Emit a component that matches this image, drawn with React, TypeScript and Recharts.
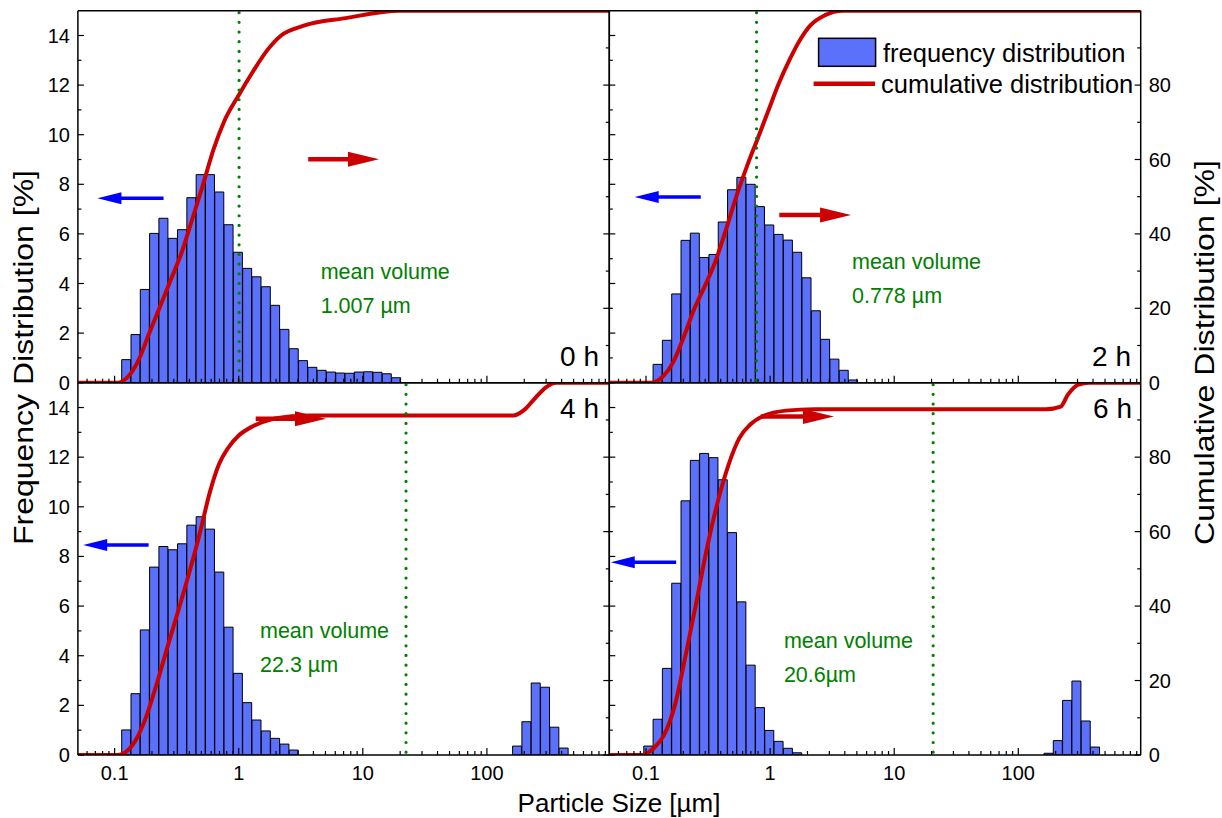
import React from 'react';
import { ComposedChart, Bar, Line, XAxis, YAxis, ReferenceLine } from 'recharts';

const W = 1222;
const H = 818;
const FONT = '"Liberation Sans", Arial, Helvetica, sans-serif';

// size classes (bin centres, µm) shared by all four measurements
const binSize = [
  0.1046, 0.1243, 0.1477, 0.1756, 0.2087, 0.248, 0.2948, 0.3503, 0.4164, 0.4949,
  0.5882, 0.6991, 0.8309, 0.9874, 1.1735, 1.3947, 1.6576, 1.9701, 2.3415, 2.7829,
  3.3075, 3.931, 4.672, 5.5527, 6.5993, 7.8433, 9.3217, 11.079, 13.167, 15.649,
  18.599, 175.6, 208.7, 248.0, 294.8, 350.4, 416.4,
];

// frequency distribution [%] per size class
const freq0h = [
  0, 0.93, 1.94, 3.76, 6.02, 6.63, 5.82, 6.17, 7.46, 8.39,
  8.39, 7.69, 6.37, 5.26, 4.61, 4.27, 3.87, 3.12, 2.15, 1.37,
  0.89, 0.62, 0.5, 0.43, 0.39, 0.38, 0.43, 0.44, 0.42, 0.36,
  0.2, 0, 0, 0, 0, 0, 0,
];
const freq2h = [
  0, 0.74, 1.71, 3.58, 5.74, 6.03, 5.05, 5.17, 6.48, 7.78,
  8.28, 8.0, 7.1, 6.36, 5.98, 5.75, 5.26, 4.23, 2.9, 1.75,
  0.95, 0.5, 0.11, 0, 0, 0, 0, 0, 0, 0,
  0, 0, 0, 0, 0, 0, 0,
];
const freq4h = [
  0, 1.01, 2.47, 5.04, 7.57, 8.4, 8.27, 8.51, 9.26, 9.6,
  9.1, 7.37, 5.15, 3.29, 2.11, 1.41, 0.97, 0.67, 0.44, 0.2,
  0, 0, 0, 0, 0, 0, 0, 0, 0, 0,
  0, 0.36, 1.34, 2.9, 2.73, 1.12, 0.28,
];
const freq6h = [
  0.36, 1.44, 3.49, 6.92, 10.24, 11.87, 12.15, 11.98, 11.09, 8.96,
  6.17, 3.62, 1.91, 0.99, 0.55, 0.27, 0.09, 0, 0, 0,
  0, 0, 0, 0, 0, 0, 0, 0, 0, 0,
  0, 0.07, 0.58, 2.2, 2.98, 1.37, 0.32,
];

// cumulative distribution [%]
const cum0hSize = [0.05, 0.105, 0.128, 0.156, 0.19, 0.232, 0.283, 0.345, 0.42, 0.51, 0.625, 0.76, 1.0, 1.3, 1.7, 2.21, 3.3, 7.28, 19.7, 1000];
const cum0hPct = [0, 0, 1.6, 6.1, 13.3, 20.4, 27.6, 34.8, 43.7, 52.7, 62.6, 70.1, 77.3, 83.6, 89.4, 93.4, 95.9, 98, 100, 100];
const cum2hSize = [0.05, 0.111, 0.136, 0.166, 0.202, 0.246, 0.301, 0.366, 0.448, 0.546, 0.666, 0.785, 0.96, 1.17, 1.43, 1.74, 2.12, 2.77, 3.86, 1000];
const cum2hPct = [0, 0, 1.6, 5.6, 12.4, 20, 26.3, 33, 41.9, 51, 59.1, 65.2, 72.8, 80.3, 86.7, 92.1, 96.1, 98.8, 100, 100];
const cum4hSize = [0.05, 0.105, 0.128, 0.151, 0.178, 0.217, 0.265, 0.324, 0.395, 0.482, 0.588, 0.692, 0.818, 1.0, 1.3, 1.81, 2.69, 3.76, 164, 200, 244, 297, 362, 1000];
const cum4hPct = [0, 0, 1.3, 4.5, 9.9, 18.8, 28.7, 38.5, 48.4, 59.1, 70.8, 78, 82.4, 85.8, 88.3, 90.1, 91, 91.2, 91.2, 92.7, 95.8, 98.7, 100, 100];
const cum6hSize = [0.05, 0.094, 0.115, 0.14, 0.171, 0.209, 0.255, 0.31, 0.379, 0.463, 0.565, 0.689, 0.898, 1.34, 2.27, 168, 220, 251, 306, 373, 1000];
const cum6hPct = [0, 0, 1.8, 5.4, 13.4, 26.9, 41.2, 55.6, 68.1, 78, 85.1, 88.7, 91.2, 92.5, 92.9, 92.9, 93.6, 96.8, 99.5, 100, 100];

// mean volume diameters [µm]
const meanVolume = [1.007, 0.778, 22.3, 20.6];
const meanLabel = ['1.007 µm', '0.778 µm', '22.3 µm', '20.6µm'];
const panelLabel = ['0 h', '2 h', '4 h', '6 h'];

// axis ticks
const xTicks = [
  0.06, 0.07, 0.08, 0.09, 0.1, 0.2, 0.3, 0.4, 0.5, 0.6, 0.7, 0.8, 0.9,
  1, 2, 3, 4, 5, 6, 7, 8, 9, 10, 20, 30, 40, 50, 60, 70, 80, 90,
  100, 200, 300, 400, 500, 600, 700, 800, 900,
];
const xLabels = [0.1, 1, 10, 100];
const freqTicks = [0, 1, 2, 3, 4, 5, 6, 7, 8, 9, 10, 11, 12, 13, 14];
const freqLabels = [0, 2, 4, 6, 8, 10, 12, 14];
const cumTicks = [0, 10, 20, 30, 40, 50, 60, 70, 80, 90];
const cumLabels = [0, 20, 40, 60, 80];

const X_DOMAIN: [number, number] = [0.0506, 969];
const PLOT = { x0: 77.9, x1: 609.3, x2: 1140.7, y0: 10.7, y1: 382.7, y2: 755 };

const BLUE = '#5b70fb';
const RED = '#cc0000';
const GREEN = '#008000';

// arrow annotations: [tail x, tip x, level]
const panels = [
  { col: 0, row: 0, freq: freq0h, cs: cum0hSize, cp: cum0hPct, blue: [0.248, 0.0727, 7.44], red: [3.63, 13.5, 60.1] },
  { col: 1, row: 0, freq: freq2h, cs: cum2hSize, cp: cum2hPct, blue: [0.276, 0.081, 7.49], red: [1.186, 4.49, 45.1] },
  { col: 0, row: 1, freq: freq4h, cs: cum4hSize, cp: cum4hPct, blue: [0.188, 0.0558, 8.46], red: [1.37, 5.05, 90.3] },
  { col: 1, row: 1, freq: freq6h, cs: cum6hSize, cp: cum6hPct, blue: [0.175, 0.052, 7.77], red: [0.84, 3.27, 90.9] },
];

// plot-area margins; `axis` = thickness taken by each visible axis (1px each side)
function marginOf(col: number, row: number, axis: number) {
  return {
    left: (col ? PLOT.x1 : PLOT.x0) - axis,
    right: W - (col ? PLOT.x2 : PLOT.x1) - axis,
    top: (row ? PLOT.y1 : PLOT.y0) - axis,
    bottom: H - (row ? PLOT.y2 : PLOT.y1) - axis,
  };
}

const xTick = (showLabel: boolean) => (p: any) => {
  const v = p.payload.value;
  const major = xLabels.includes(v);
  return (
    <g>
      <line x1={p.x} x2={p.x} y1={p.y} y2={p.y - (major ? 7 : 4)} stroke="#000" strokeWidth={1.2} />
      {showLabel && major && (
        <text x={p.x} y={p.y + 25} textAnchor="middle" fontSize={20} fontFamily={FONT} fill="#000">{String(v)}</text>
      )}
    </g>
  );
};

const yTick = (side: 'left' | 'right', showLabel: boolean, labels: number[]) => (p: any) => {
  const v = p.payload.value;
  const major = labels.includes(v);
  const dir = side === 'left' ? 1 : -1;
  return (
    <g>
      <line x1={p.x} x2={p.x + dir * (major ? 6 : 3.5)} y1={p.y} y2={p.y} stroke="#000" strokeWidth={1.2} />
      {showLabel && major && (
        <text x={p.x - dir * 8} y={p.y + 7} textAnchor={side === 'left' ? 'end' : 'start'} fontSize={20} fontFamily={FONT} fill="#000">{v}</text>
      )}
    </g>
  );
};

const arrow = (color: string, lw: number, hl: number, hw: number) => (p: any) => {
  const dir = p.x2 > p.x1 ? 1 : -1;
  const bx = p.x2 - dir * hl;
  return (
    <g>
      <line x1={p.x1} y1={p.y1} x2={bx + dir * 2} y2={p.y2} stroke={color} strokeWidth={lw} />
      <polygon points={`${p.x2},${p.y2} ${bx},${p.y2 - hw} ${bx},${p.y2 + hw}`} fill={color} />
    </g>
  );
};

const dotted = (p: any) => (
  <line x1={p.x1} y1={Math.min(p.y1, p.y2) + 2} x2={p.x2} y2={Math.max(p.y1, p.y2)} stroke={GREEN} strokeWidth={3.2} strokeDasharray="0 9.67" strokeLinecap="round" />
);

const layer: React.CSSProperties = { position: 'absolute', left: 0, top: 0 };
const frame = { stroke: '#000', strokeWidth: 1.5 };

function Panel({ idx }: { idx: number }) {
  const pd = panels[idx];
  const bars = binSize.map((s, i) => ({ size: s, freq: pd.freq[i] }));
  const cum = pd.cs.map((s, i) => ({ size: s, pct: pd.cp[i] }));
  const leftLabels = pd.col === 0;
  const rightLabels = pd.col === 1;
  const bottomLabels = pd.row === 1;

  return (
    <>
      <div style={layer}>
        <ComposedChart width={W} height={H} data={bars} margin={marginOf(pd.col, pd.row, 0)} barCategoryGap={0} barGap={0}>
          <XAxis dataKey="size" type="number" scale="log" domain={X_DOMAIN} allowDataOverflow hide />
          <YAxis yAxisId="f" domain={[0, 15]} allowDataOverflow hide />
          <Bar yAxisId="f" dataKey="freq" fill={BLUE} stroke="#000" strokeWidth={1} isAnimationActive={false} />
        </ComposedChart>
      </div>
      <div style={layer}>
        <ComposedChart width={W} height={H} data={cum} margin={marginOf(pd.col, pd.row, 1)}>
          <XAxis
            dataKey="size" type="number" scale="log" domain={X_DOMAIN} allowDataOverflow
            ticks={xTicks} interval={0} height={1} tickSize={0} tickMargin={0}
            tickLine={false} axisLine={frame} tick={xTick(bottomLabels)}
          />
          <XAxis
            xAxisId="top" orientation="top" dataKey="size" type="number" scale="log"
            domain={X_DOMAIN} allowDataOverflow height={1} tick={false} tickLine={false} axisLine={frame}
          />
          <YAxis
            yAxisId="f" orientation="left" domain={[0, 15]} allowDataOverflow ticks={freqTicks}
            interval={0} width={1} tickSize={0} tickMargin={0} tickLine={false} axisLine={frame}
            tick={yTick('left', leftLabels, freqLabels)}
          />
          <YAxis
            yAxisId="c" orientation="right" domain={[0, 100]} allowDataOverflow ticks={cumTicks}
            interval={0} width={1} tickSize={0} tickMargin={0} tickLine={false} axisLine={frame}
            tick={yTick('right', rightLabels, cumLabels)}
          />
          <Line
            yAxisId="c" type="monotone" dataKey="pct" stroke={RED} strokeWidth={4}
            dot={false} activeDot={false} isAnimationActive={false}
          />
          <ReferenceLine yAxisId="f" x={meanVolume[idx]} shape={dotted} />
          <ReferenceLine
            yAxisId="f"
            segment={[{ x: pd.blue[0], y: pd.blue[2] }, { x: pd.blue[1], y: pd.blue[2] }]}
            shape={arrow('#0000ff', 3.5, 24, 6)}
          />
          <ReferenceLine
            yAxisId="c"
            segment={[{ x: pd.red[0], y: pd.red[2] }, { x: pd.red[1], y: pd.red[2] }]}
            shape={arrow(RED, 4.5, 31, 7.5)}
          />
        </ComposedChart>
      </div>
    </>
  );
}

// annotation text positions (px)
const textPos = [
  { mx: 320.7, my: 279, lx: 599, ly: 366 },
  { mx: 852, my: 268.7, lx: 1131, ly: 366 },
  { mx: 260, my: 638.3, lx: 599, ly: 418 },
  { mx: 783.9, my: 648.3, lx: 1132, ly: 418 },
];

function Annotations() {
  return (
    <svg width={W} height={H} style={{ ...layer, pointerEvents: 'none' }} fontFamily={FONT}>
      {textPos.map((t, i) => (
        <g key={i}>
          <text x={t.mx} y={t.my} fontSize={21.5} fill={GREEN}>mean volume</text>
          <text x={t.mx} y={t.my + 34} fontSize={21.5} fill={GREEN}>{meanLabel[i]}</text>
          <text x={t.lx} y={t.ly} fontSize={28} textAnchor="end" fill="#000">{panelLabel[i]}</text>
        </g>
      ))}
      {/* legend */}
      <rect x={818.6} y={38.3} width={57} height={28} fill={BLUE} stroke="#000" strokeWidth={1.5} />
      <line x1={813.6} x2={875} y1={83.7} y2={83.7} stroke={RED} strokeWidth={4.5} />
      <text x={883} y={62} fontSize={25.5} fill="#000">frequency distribution</text>
      <text x={881} y={92.5} fontSize={25.5} fill="#000">cumulative distribution</text>
      {/* axis titles */}
      <text x={619} y={812} fontSize={26} textAnchor="middle" fill="#000">Particle Size [µm]</text>
      <text
        transform="translate(33,357.5) rotate(-90)" fontSize={27} textAnchor="middle" fill="#000"
        textLength={375} lengthAdjust="spacingAndGlyphs"
      >
        Frequency Distribution [%]
      </text>
      <text
        transform="translate(1214,352.5) rotate(-90)" fontSize={27} textAnchor="middle" fill="#000"
        textLength={385} lengthAdjust="spacingAndGlyphs"
      >
        Cumulative Distribution [%]
      </text>
    </svg>
  );
}

export default function App() {
  return (
    <div style={{ position: 'absolute', left: 0, top: 0, width: W, height: H, background: '#fff' }}>
      {panels.map((_, i) => <Panel key={i} idx={i} />)}
      <Annotations />
    </div>
  );
}
